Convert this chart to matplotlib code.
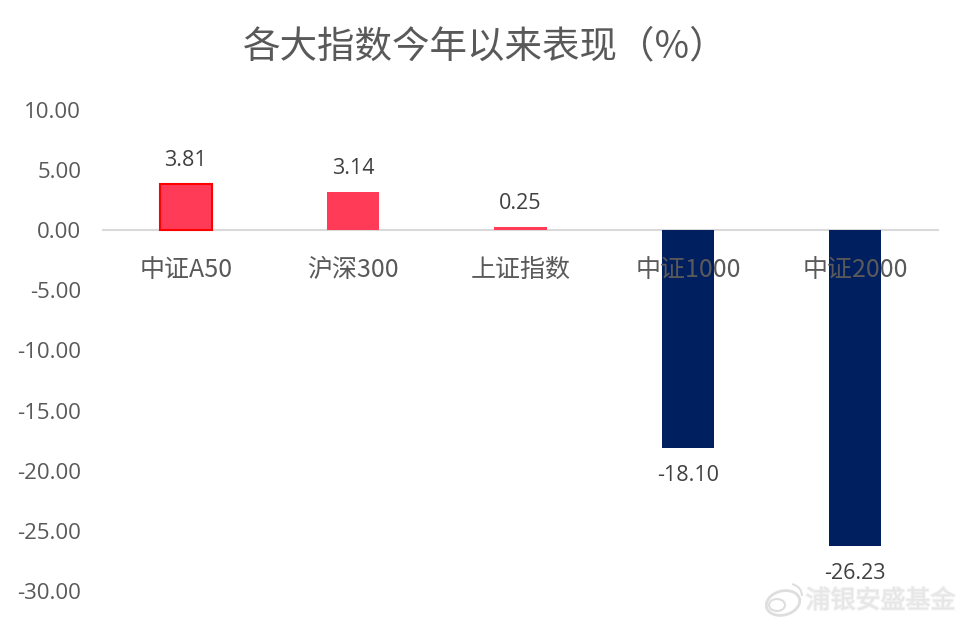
import matplotlib
matplotlib.use('Agg')
import matplotlib.pyplot as plt
from matplotlib.patches import Ellipse, Arc
import matplotlib.patheffects as pe

plt.rcParams['font.family'] = ['Noto Sans CJK SC', 'DejaVu Sans']

categories = ['中证A50', '沪深300', '上证指数', '中证1000', '中证2000']
values = [3.81, 3.14, 0.25, -18.10, -26.23]
value_labels = ['3.81', '3.14', '0.25', '-18.10', '-26.23']
yticks = [10, 5, 0, -5, -10, -15, -20, -25, -30]
title = '各大指数今年以来表现（%）'
watermark = '浦银安盛基金'

fig = plt.figure(figsize=(9.64, 6.24), dpi=100)
ax = fig.add_axes([102/964, 1-591/624, (939-102)/964, (591-110)/624])

colors = ['#FF3B57' if v > 0 else '#001F5F' for v in values]
x = list(range(len(values)))
bars = ax.bar(x, values, width=0.312, color=colors, linewidth=0, zorder=2)
# only the first bar has a red outline
bars[0].set_edgecolor('#FF0000')
bars[0].set_linewidth(1.5)

ax.set_xlim(-0.5, 4.5)
ax.set_ylim(-30, 10)
ax.set_yticks(yticks)
ax.set_yticklabels(['%.2f' % t for t in yticks], fontsize=16, color='#595959',
                   family=['Open Sans', 'DejaVu Sans'])
ax.tick_params(axis='y', length=0, pad=15)
ax.set_xticks([])
for s in ['top', 'right', 'left', 'bottom']:
    ax.spines[s].set_visible(False)
ax.axhline(0, color='#D9D9D9', linewidth=1.5, zorder=1)

for i, c in enumerate(categories):
    ax.annotate(c, (i, 0), xytext=(0, -40), textcoords='offset pixels',
                ha='center', va='center', fontsize=18, color='#595959', zorder=3)

for i, (v, t) in enumerate(zip(values, value_labels)):
    off = 24 if v > 0 else -28
    ax.annotate(t, (i, v), xytext=(0, off), textcoords='offset pixels', ha='center', va='center',
                fontsize=15.5, color='#404040', family=['Open Sans', 'DejaVu Sans'], zorder=3)

fig.text(485/964, 1-47/624, title, ha='center', va='center', fontsize=27, color='#595959')

# watermark, white text with a soft grey edge
fig.text(880.5/964, 1-601/624, watermark, ha='center', va='center', fontsize=18, color='#E6E6E6',
         path_effects=[pe.withStroke(linewidth=1.5, foreground='#F2F2F2')], zorder=5)
logo_ax = fig.add_axes([0, 0, 1, 1], facecolor='none')
logo_ax.set_xlim(0, 964)
logo_ax.set_ylim(624, 0)
logo_ax.axis('off')
logo_ax.add_patch(Ellipse((783, 603), 34, 24, angle=-15, fill=False, ec='#DEDEDE', lw=2))
logo_ax.add_patch(Ellipse((777, 605), 16, 12, fill=False, ec='#DEDEDE', lw=1.5))
logo_ax.add_patch(Arc((790, 596), 24, 24, theta1=-80, theta2=0, ec='#DEDEDE', lw=1.5))

fig.savefig('out.png', dpi=100)
